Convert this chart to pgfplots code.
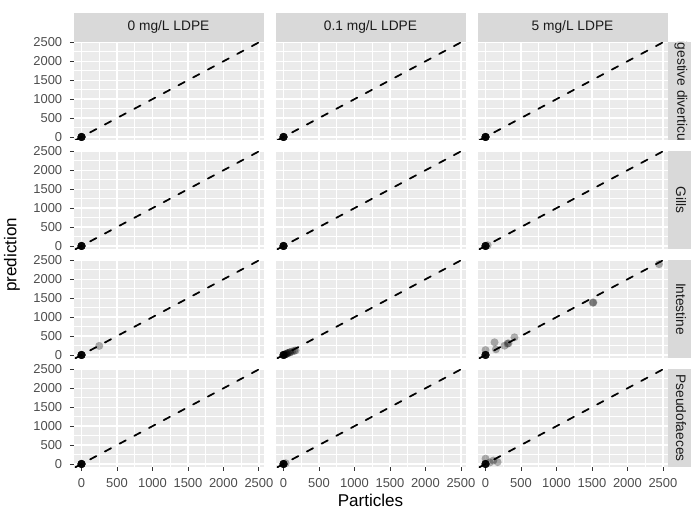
\documentclass[border=0pt]{standalone}
\usepackage{pgfplots}
\pgfplotsset{compat=1.18}
\usepackage{fontspec}
\setmainfont{Liberation Sans}

\definecolor{panelbg}{HTML}{EBEBEB}
\definecolor{stripbg}{HTML}{D9D9D9}
\definecolor{tickcol}{HTML}{333333}
\definecolor{labcol}{HTML}{4D4D4D}
\definecolor{striptxt}{HTML}{1A1A1A}

\pgfplotsset{
  panel/.style={
    scale only axis, width=142.5pt, height=73.5pt,
    anchor=north west,
    xmin=-113, xmax=2565, ymin=-80, ymax=2510,
    xtick={0,500,...,2500}, ytick={0,500,...,2500},
    minor xtick={250,750,...,2250}, minor ytick={250,750,...,2250},
    grid=both,
    major grid style={white, line width=1.07pt},
    minor grid style={white, line width=0.53pt},
    axis background/.style={fill=panelbg},
    axis line style={draw=none},
    tick align=outside, xtick pos=left, ytick pos=left,
    major tick length=2.75pt, minor tick length=0pt,
    tick style={color=tickcol, line width=0.6pt},
    ticklabel style={font=\fontsize{9.7}{11}\selectfont, text=labcol},
    yticklabel style={xshift=-2.2pt},
    xticklabel style={yshift=-2pt},
    /pgf/number format/1000 sep={},
    /pgf/number format/assume math mode=true,
    scaled ticks=false,
  },
  noxlab/.style={xticklabels={}, xtick style={draw=none}},
  noylab/.style={yticklabels={}, ytick style={draw=none}},
  dashline/.style={black, line width=1.3pt, line cap=round, dash pattern=on 5.3pt off 7.2pt},
  pts/.style={only marks, mark=*, mark size=3pt, color=black,
    mark options={solid, fill=black, fill opacity=0.3, draw opacity=0}},
}

\newcommand{\panel}[3]{%
\begin{axis}[panel, at={(#1)}, #2]
\addplot[dashline] coordinates {(-500,-500) (3000,3000)};
\addplot[pts] coordinates {#3};
\end{axis}}

\begin{document}
\begin{tikzpicture}
\path[use as bounding box] (0,0) rectangle (518.25pt,381pt);

% row 1: digestive diverticula
\panel{55.125pt,349.5pt}{noxlab}{(0,0) (0,0) (0,0) (0,0) (0,0) (0,0) (0,0) (0,0) (0,0) (0,0)}
\panel{206.625pt,349.5pt}{noxlab,noylab}{(0,0) (0,0) (0,0) (0,0) (0,0) (0,0) (0,0) (0,0) (0,0) (0,0)}
\panel{358.125pt,349.5pt}{noxlab,noylab}{(0,0) (0,0) (0,0) (0,0) (0,0) (0,0) (0,0) (0,0) (0,0) (0,0)}
% row 2: gills
\panel{55.125pt,267.75pt}{noxlab}{(0,0) (0,0) (0,0) (0,0) (0,0) (0,0) (0,0) (0,0) (0,0) (0,0)}
\panel{206.625pt,267.75pt}{noxlab,noylab}{(0,0) (0,0) (0,0) (0,0) (0,0) (0,0) (0,0) (0,0) (0,0) (0,0)}
\panel{358.125pt,267.75pt}{noxlab,noylab}{(0,0) (0,0) (0,0) (0,0) (0,0) (0,0) (0,0) (0,0) (0,0) (30,20)}
% row 3: intestine
\panel{55.125pt,186pt}{noxlab}{(0,0) (0,0) (0,0) (0,0) (0,0) (0,0) (0,0) (0,0) (0,0) (0,0) (250,240)}
\panel{206.625pt,186pt}{noxlab,noylab}{(0,0) (0,0) (0,0) (0,0) (0,0) (0,0) (0,0) (0,0) (20,10) (20,10) (40,30) (40,30) (60,50) (60,50) (90,70) (90,70) (120,90) (150,110) (170,120)}
\panel{358.125pt,186pt}{noxlab,noylab}{(0,0) (0,0) (0,0) (0,0) (0,0) (0,0) (0,0) (0,0) (0,130) (146,150) (127,335) (268,245) (324,308) (310,300) (408,467) (1513,1380) (1520,1390) (2446,2400)}
% row 4: pseudofaeces
\panel{55.125pt,104.25pt}{}{(0,0) (0,0) (0,0) (0,0) (0,0) (0,0) (0,0) (0,0) (0,0) (0,0)}
\panel{206.625pt,104.25pt}{noylab}{(0,0) (0,0) (0,0) (0,0) (0,0) (0,0) (0,0) (0,0) (0,0) (30,20)}
\panel{358.125pt,104.25pt}{noylab}{(0,0) (0,0) (0,0) (0,0) (0,0) (0,0) (0,0) (0,0) (0,140) (110,90) (170,50) (60,40)}

% top strips
\foreach \x/\lab in {55.125/{0 mg/L LDPE}, 206.625/{0.1 mg/L LDPE}, 358.125/{5 mg/L LDPE}}{
  \fill[stripbg] (\x pt,349.5pt) rectangle ++(142.5pt,21.75pt);
  \node[text=striptxt, font=\fontsize{10.3}{12}\selectfont] at (\x pt+71.25pt,360.6pt) {\lab};
}
% right strips
\foreach \y/\lab in {349.5/{Digestive diverticula}, 267.75/Gills, 186/Intestine, 104.25/Pseudofaeces}{
  \begin{scope}
    \clip (501pt,\y pt) rectangle ++(19.5pt,-73.5pt);
    \fill[stripbg] (501pt,\y pt) rectangle ++(19.5pt,-73.5pt);
    \node[rotate=-90, text=striptxt, font=\fontsize{10.3}{12}\selectfont] at (510.75pt,\y pt-36.75pt) {\lab};
  \end{scope}
}

% axis titles
\node[rotate=90, font=\fontsize{12.8}{15}\selectfont] at (9pt,190pt) {prediction};
\node[font=\fontsize{12.8}{15}\selectfont] at (277.9pt,6pt) {Particles};
\end{tikzpicture}
\end{document}
